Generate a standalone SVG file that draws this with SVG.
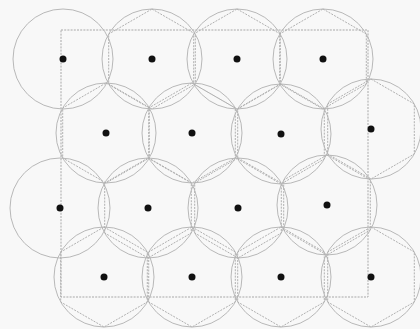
<svg xmlns="http://www.w3.org/2000/svg" xmlns:xlink="http://www.w3.org/1999/xlink" width="420" height="329" viewBox="0 0 420 329">
<style>
.c{fill:none;stroke:#b8b8b8;stroke-width:1}
.h{fill:none;stroke:#b0b0b0;stroke-width:1;stroke-dasharray:2 1.2}
.d{fill:#111}
.r{fill:none;stroke:#a8a8a8;stroke-width:1;stroke-dasharray:2 1.2}
</style>
<defs>
<polygon id="hex" class="h" points="0,-50 43.3,-25 43.3,25 0,50 -43.3,25 -43.3,-25"/>
</defs>
<rect width="420" height="329" fill="#f8f8f8"/>
<g id="frame"><rect class="r" x="61" y="30" width="307" height="267"/></g>
<g id="n11" transform="translate(63,59)"><circle class="c" r="50"/><circle class="d" r="3.5"/></g>
<g id="n12" transform="translate(152,59)"><circle class="c" r="50"/><use xlink:href="#hex"/><circle class="d" r="3.5"/></g>
<g id="n13" transform="translate(237,59)"><circle class="c" r="50"/><use xlink:href="#hex"/><circle class="d" r="3.5"/></g>
<g id="n14" transform="translate(323,59)"><circle class="c" r="50"/><use xlink:href="#hex"/><circle class="d" r="3.5"/></g>
<g id="n21" transform="translate(106,133)"><circle class="c" r="50"/><use xlink:href="#hex"/><circle class="d" r="3.5"/></g>
<g id="n22" transform="translate(192,133)"><circle class="c" r="50"/><use xlink:href="#hex"/><circle class="d" r="3.5"/></g>
<g id="n23" transform="translate(281,134)"><circle class="c" r="50"/><use xlink:href="#hex"/><circle class="d" r="3.5"/></g>
<g id="n24" transform="translate(371,129)"><circle class="c" r="50"/><use xlink:href="#hex"/><circle class="d" r="3.5"/></g>
<g id="n31" transform="translate(60,208)"><circle class="c" r="50"/><circle class="d" r="3.5"/></g>
<g id="n32" transform="translate(148,208)"><circle class="c" r="50"/><use xlink:href="#hex"/><circle class="d" r="3.5"/></g>
<g id="n33" transform="translate(238,208)"><circle class="c" r="50"/><use xlink:href="#hex"/><circle class="d" r="3.5"/></g>
<g id="n34" transform="translate(327,205)"><circle class="c" r="50"/><use xlink:href="#hex"/><circle class="d" r="3.5"/></g>
<g id="n41" transform="translate(104,277)"><circle class="c" r="50"/><use xlink:href="#hex"/><circle class="d" r="3.5"/></g>
<g id="n42" transform="translate(192,277)"><circle class="c" r="50"/><use xlink:href="#hex"/><circle class="d" r="3.5"/></g>
<g id="n43" transform="translate(281,277)"><circle class="c" r="50"/><use xlink:href="#hex"/><circle class="d" r="3.5"/></g>
<g id="n44" transform="translate(371,277)"><circle class="c" r="50"/><use xlink:href="#hex"/><circle class="d" r="3.5"/></g>
<g id="connectors"></g>
</svg>
